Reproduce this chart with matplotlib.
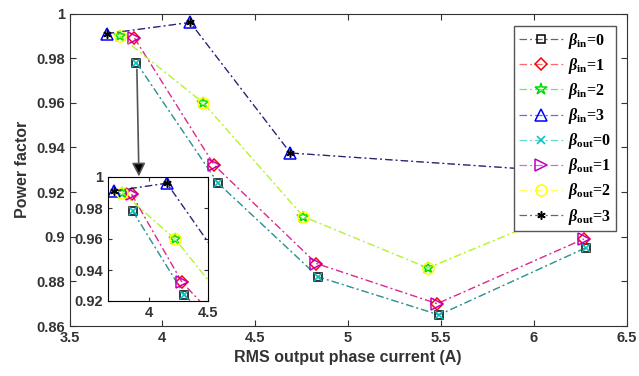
import matplotlib
matplotlib.use("Agg")
import matplotlib.pyplot as plt
from matplotlib.colors import to_rgba

plt.rcParams['font.family'] = 'Liberation Sans'
plt.rcParams['font.weight'] = 'bold'
plt.rcParams['mathtext.fontset'] = 'custom'
plt.rcParams['mathtext.rm'] = 'Liberation Serif:bold'
plt.rcParams['mathtext.it'] = 'Liberation Serif:italic:bold'
plt.rcParams['mathtext.bf'] = 'Liberation Serif:bold'

# operating points for beta = 0..3 (beta_in and beta_out give the same curve)
current_0 = [3.86, 4.30, 4.84, 5.49, 6.28]
pf_0 = [0.978, 0.924, 0.882, 0.865, 0.895]
current_1 = [3.85, 4.28, 4.83, 5.48, 6.27]
pf_1 = [0.989, 0.932, 0.888, 0.870, 0.899]
current_2 = [3.77, 4.22, 4.76, 5.43, 6.27]
pf_2 = [0.990, 0.960, 0.909, 0.886, 0.915]
current_3 = [3.70, 4.15, 4.69, 6.28]
pf_3 = [0.991, 0.996, 0.9375, 0.9285]

currents = [current_0, current_1, current_2, current_3]
pfs = [pf_0, pf_1, pf_2, pf_3]

asterisk = (6, 2, 0)
in_styles = [('k', 's'), ('r', 'D'), ('#00dd00', '*'), ('b', '^')]
out_styles = [('c', 'x'), ('m', '>'), ('#ffff00', 'o'), ('k', asterisk)]
in_sizes = [6, 6, 9, 8]
out_sizes = [6, 8, 8, 6]

x_ticks = [3.5, 4, 4.5, 5, 5.5, 6, 6.5]
y_ticks = [0.86, 0.88, 0.9, 0.92, 0.94, 0.96, 0.98, 1]
inset_x_ticks = [4, 4.5]
inset_y_ticks = [0.92, 0.94, 0.96, 0.98, 1]

dash = (0, (6, 2.5, 1.5, 2.5))


def draw_series(ax, with_labels):
    for k in range(4):
        c, m = in_styles[k]
        ax.plot(currents[k], pfs[k], color=to_rgba(c, 0.6), linestyle=dash, lw=0.9,
                marker=m, markersize=in_sizes[k], mfc='none', mec=c, mew=1.1,
                label=r'$\beta_{\mathrm{in}}$=%d' % k if with_labels else None)
    for k in range(4):
        c, m = out_styles[k]
        ax.plot(currents[k], pfs[k], color=to_rgba(c, 0.6), linestyle=dash, lw=0.9,
                marker=m, markersize=out_sizes[k], mfc='none', mec=c, mew=1.1,
                label=r'$\beta_{\mathrm{out}}$=%d' % k if with_labels else None)


fig = plt.figure(figsize=(6.39, 3.76), dpi=100)
ax = fig.add_axes([69.5 / 639, 50 / 376, 557 / 639, 312.5 / 376])
draw_series(ax, True)
ax.set_xlim(3.5, 6.5)
ax.set_ylim(0.86, 1)
ax.set_xticks(x_ticks)
ax.set_xticklabels(['3.5', '4', '4.5', '5', '5.5', '6', '6.5'])
ax.set_yticks(y_ticks)
ax.set_yticklabels(['0.86', '0.88', '0.9', '0.92', '0.94', '0.96', '0.98', '1'])
ax.tick_params(direction='in', top=True, right=True, labelsize=10.5, length=4, color='#333333')
for s in ax.spines.values():
    s.set_color('#333333')
ax.set_xlabel('RMS output phase current (A)', fontsize=11.5, fontweight='bold', color='#333333')
ax.set_ylabel('Power factor', fontsize=11.5, fontweight='bold', color='#333333')
for lab in ax.get_xticklabels() + ax.get_yticklabels():
    lab.set_color('#333333')

leg = ax.legend(loc='upper right', bbox_to_anchor=(616 / 639, 1 - 26 / 376),
                bbox_transform=fig.transFigure, fancybox=False, edgecolor='#555555',
                prop={'family': 'Liberation Serif', 'weight': 'bold', 'size': 11.5},
                handlelength=2.8, labelspacing=0.32, borderpad=0.3, handletextpad=0.3,
                borderaxespad=0, framealpha=1)

ax.annotate('', xy=(3.874, 0.927), xytext=(3.863, pf_0[0] - 0.003),
            arrowprops=dict(arrowstyle='-|>', ec='#555555', fc='k', lw=1.2,
                            mutation_scale=20, shrinkA=0, shrinkB=0))

ins = fig.add_axes([108 / 639, 75 / 376, 100 / 639, 124 / 376])
draw_series(ins, False)
ins.set_xlim(3.65, 4.5)
ins.set_ylim(0.92, 1)
ins.set_xticks(inset_x_ticks)
ins.set_xticklabels(['4', '4.5'])
ins.set_yticks(inset_y_ticks)
ins.set_yticklabels(['0.92', '0.94', '0.96', '0.98', '1'])
ins.tick_params(direction='in', top=True, right=True, labelsize=10.5, length=3, color='#333333')
for lab in ins.get_xticklabels() + ins.get_yticklabels():
    lab.set_color('#333333')

fig.savefig('out.png', dpi=100)
